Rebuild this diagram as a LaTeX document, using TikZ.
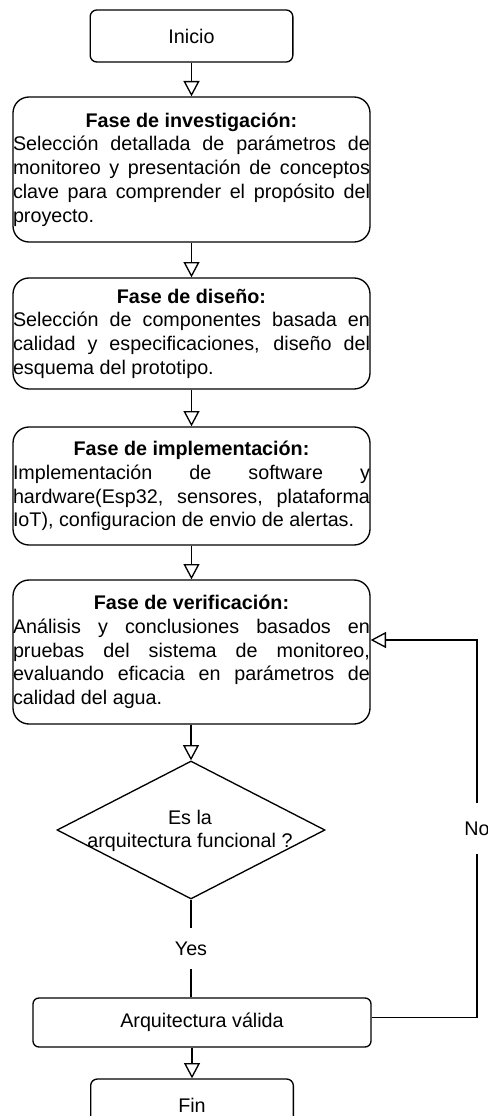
\documentclass[tikz,border=0pt]{standalone}
\usepackage{fontspec}
\setmainfont{Liberation Sans}
\usetikzlibrary{arrows.meta,shapes.geometric}

\tikzset{every picture/.style={line width=1pt},
  texto/.style={font=\fontsize{14.8}{17.8}\selectfont},
  terminal/.style={draw, texto, rounded corners=5pt, inner sep=0pt, minimum width=152pt, minimum height=39pt},
  fase/.style={draw, texto, rounded corners=12pt, inner sep=0pt, text width=267.75pt, align=justify},
  flecha/.style={-{Triangle[open,length=11.5pt,width=12pt]}},
}
\newcommand{\titulo}[1]{{\centering\bfseries #1\par}\noindent}

\begin{document}
\begin{tikzpicture}[x=0.75pt,y=0.75pt,yscale=-1,xscale=1]
\useasboundingbox (0,0) rectangle (488,1116);
\clip (0,0) rectangle (488,1116);

% Terminal: inicio
\node [terminal] (inicio) at (191.5,36) {Inicio};
% Fase de investigacion
\node [fase, minimum height=108.75pt] (inv) at (191.5,169.5) {\titulo{Fase de investigación:}Selección detallada de parámetros de\linebreak monitoreo y presentación de conceptos\linebreak clave para comprender el propósito del\linebreak proyecto.};
% Fase de diseno
\node [fase, minimum height=83.25pt] (dis) at (191.5,333.5) {\titulo{Fase de diseño:}Selección de componentes basada en\linebreak calidad y especificaciones, diseño del\linebreak esquema del prototipo.};
% Fase de implementacion
\node [fase, minimum height=88.5pt] (imp) at (191.5,486) {\titulo{Fase de implementación:}Implementación de software y\linebreak hardware(Esp32, sensores, plataforma\linebreak IoT), configuracion de envio de alertas.};
% Fase de verificacion
\node [fase, minimum height=108pt] (ver) at (191.5,652) {\titulo{Fase de verificación:}Análisis y conclusiones basados en\linebreak pruebas del sistema de monitoreo,\linebreak evaluando eficacia en parámetros de\linebreak calidad del agua.};
% Decision
\node [diamond, draw, inner sep=0pt, minimum width=201pt, minimum height=103.5pt] (dec) at (191,830) {};
\node [texto, align=center] (pregunta) at (190,831) {Es la\\arquitectura funcional ?};
% Arquitectura valida
\node [terminal, minimum width=253.5pt, minimum height=36.75pt, rounded corners=4.5pt] (arq) at (202,1022.5) {Arquitectura válida};
% Terminal: fin
\node [terminal] (fin) at (192,1105) {Fin};
\coordinate (bucle) at (477,640);

%Connectors
\draw [flecha] (inicio) -- (inv);
\draw [flecha] (inv) -- (dis);
\draw [flecha] (dis) -- (imp);
\draw [flecha] (imp) -- (ver);
\draw [flecha] (ver.south -| dec.north) -- (dec.north);
\draw (dec.south) -- node [texto, fill=white, inner xsep=2pt, inner ysep=10pt] {Yes} (arq.north -| dec.south);
\draw [flecha] (arq.south -| fin.north) -- (fin.north);
\draw [flecha] ([yshift=-4pt]arq.east) -| node [pos=0.75, texto, fill=white, inner xsep=2pt, inner ysep=14pt] {No} (bucle) -- (bucle -| ver.east);

\end{tikzpicture}
\end{document}
